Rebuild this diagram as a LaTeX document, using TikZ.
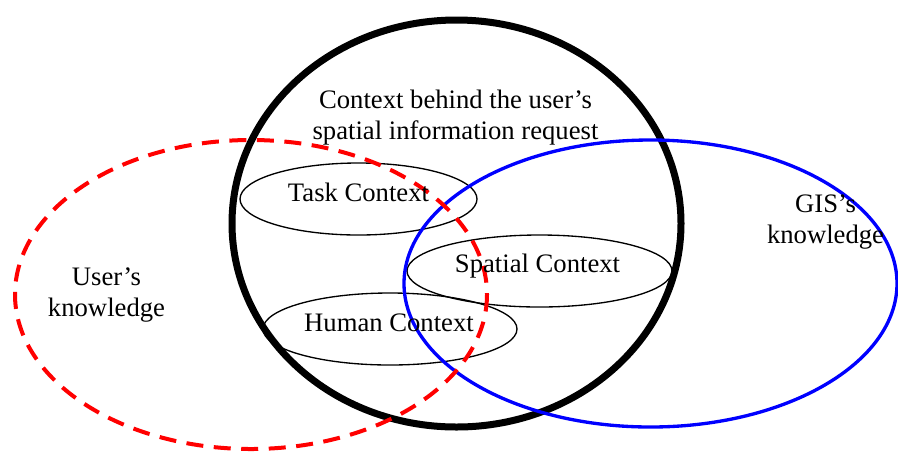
\documentclass[tikz,border=0pt]{standalone}
\usepackage{fontspec}
\setmainfont{Liberation Serif}
\usepackage{tikz}
\usetikzlibrary{positioning}
\definecolor{userred}{rgb}{1,0,0}
\definecolor{gisblue}{rgb}{0,0,1}

\begin{document}
\begin{tikzpicture}[x=0.75pt,y=-0.75pt]

\def\fs{\fontsize{20}{23.25}\selectfont}
	    \tikzset{ring/.style={line width=5.25pt,color=black}}
	    \tikzset{sub/.style={line width=1pt,color=black}}
	    \tikzset{txt/.style={inner sep=0pt,font=\fs}}

% Rahmen
\useasboundingbox (0,0) rectangle (898,451);

% Kontext (dick)
\draw[ring] (456.5,223.5) ellipse (224.5 and 203.5);

% Teilkontexte
\draw[sub] (358.5,199) ellipse (118.5 and 36);
\draw[sub] (539.5,271) ellipse (132.5 and 36);
\draw[sub] (390,329) ellipse (127 and 36);

% GIS
\draw[line width=2.5pt,color=gisblue] (650.5,283.5) ellipse (246.5 and 143.5);

% Benutzer (gestrichelt)
\draw[line width=3pt,color=userred,dash pattern=on 12.75pt off 7.9pt] (251,294.5) ellipse (236 and 154.5);

% Texte
\node[txt,align=center] (ctx) at (455.5,117.2) {Context behind the user’s\\spatial information request};
\node[txt,anchor=base] (task) at (358.5,201) {Task Context};
\node[txt,anchor=base] (spatial) at (537.5,272) {Spatial Context};
\node[txt,anchor=base] (human) at (389,331) {Human Context};
\node[txt,align=center] (user) at (106.5,295.4) {User’s\\knowledge};
\node[txt,align=center] (gis) at (825.5,222.4) {GIS’s\\knowledge};
\end{tikzpicture}
\end{document}
